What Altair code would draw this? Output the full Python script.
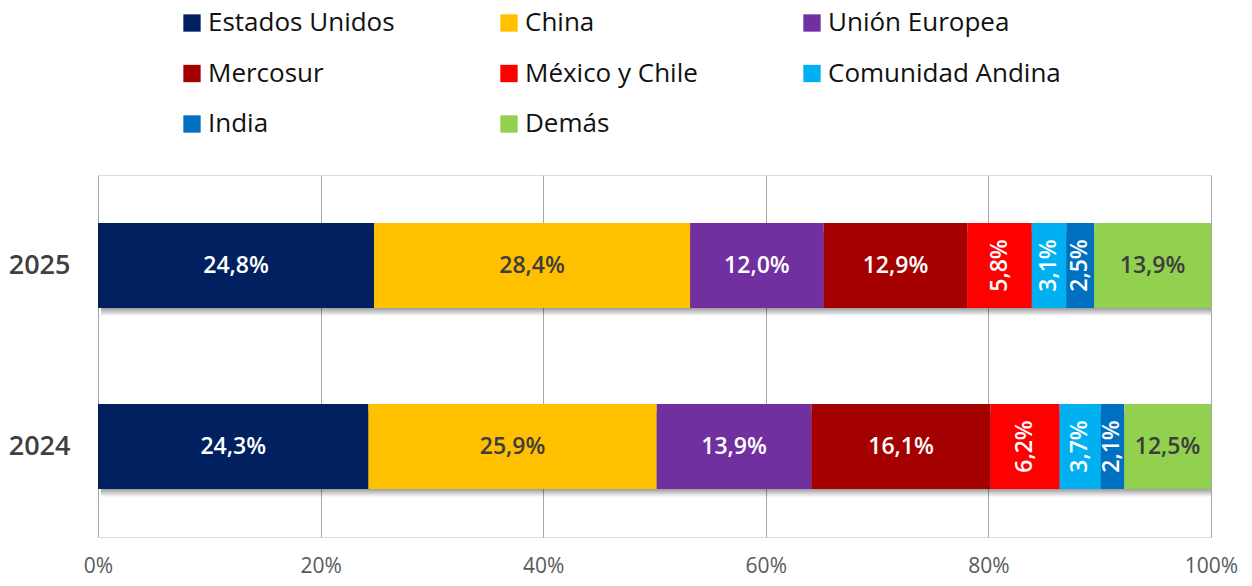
import altair as alt
import pandas as pd

years = ["2025", "2024"]
regions = ["Estados Unidos", "China", "Unión Europea", "Mercosur",
           "México y Chile", "Comunidad Andina", "India", "Demás"]
colors = ["#002060", "#FFC000", "#7030A0", "#A50000",
          "#FF0000", "#00B0F0", "#0070C0", "#92D050"]
v2025 = [24.8, 28.4, 12.0, 12.9, 5.8, 3.1, 2.5, 13.9]
v2024 = [24.3, 25.9, 13.9, 16.1, 6.2, 3.7, 2.1, 12.5]
x_ticks = [0, 20, 40, 60, 80, 100]

rows = []
for year, vals in zip(years, [v2025, v2024]):
    start = 0.0
    for i, (reg, v) in enumerate(zip(regions, vals)):
        end = start + v
        vis_end = min(end, 100.0)
        rows.append({
            "year": year, "region": reg, "order": i, "value": v,
            "start": start, "end": end,
            "mid": (start + vis_end) / 2,
            "label": f"{v:.1f}".replace(".", ",") + "%",
        })
        start = end
df = pd.DataFrame(rows)

FONT = "Open Sans"

x_scale = alt.Scale(domain=[0, 100], nice=False, zero=True)
y_scale = alt.Scale(domain=years, paddingInner=0.53, paddingOuter=0.265)

base = alt.Chart(df)

shadow_fill = alt.Gradient(
    gradient="linear", x1=0, x2=0, y1=0, y2=1,
    stops=[alt.GradientStop(color="rgba(0,0,0,0.45)", offset=0),
           alt.GradientStop(color="rgba(0,0,0,0.45)", offset=0.89),
           alt.GradientStop(color="rgba(0,0,0,0.0)", offset=1)])

shadow = base.transform_aggregate(
    s="min(start)", e="max(end)", groupby=["year"]
).mark_bar(clip=True, yOffset=8, xOffset=3, fill=shadow_fill, stroke=None).encode(
    x=alt.X("s:Q", scale=x_scale,
            axis=alt.Axis(values=x_ticks, labelExpr="datum.value + '%'", title=None,
                          grid=True, gridColor="#a6a6a6", gridWidth=1,
                          domain=False, ticks=False, labelPadding=18, labelFlush=False,
                          labelFontSize=21, labelColor="#595959", labelFont=FONT)),
    x2="e:Q",
    y=alt.Y("year:N", scale=y_scale,
            axis=alt.Axis(title=None, domain=False, ticks=False, grid=False,
                          labelPadding=28, labelFontSize=27, labelFontWeight=600,
                          labelColor="#404040", labelFont=FONT)),
)

bars = base.mark_bar(clip=True, stroke=None).encode(
    x=alt.X("start:Q", scale=x_scale),
    x2="end:Q",
    y=alt.Y("year:N", scale=y_scale),
    color=alt.Color("region:N", scale=alt.Scale(domain=regions, range=colors),
                    legend=alt.Legend(
                        title=None, orient="none", legendX=81, legendY=-165,
                        columns=3, direction="horizontal",
                        symbolType="square", symbolSize=300, symbolStrokeWidth=0,
                        symbolOpacity=1,
                        labelFontSize=26, labelFont=FONT, labelColor="#111111",
                        labelOffset=3, columnPadding=101, rowPadding=24.5,
                        labelLimit=400)),
    order=alt.Order("order:Q"),
)

text_color = alt.condition(
    alt.FieldOneOfPredicate(field="region", oneOf=["China", "Demás"]),
    alt.value("#3d3d3d"), alt.value("white"))

h_text = base.transform_filter("datum.value >= 7").mark_text(
    font=FONT, fontSize=23, fontWeight=600, align="center", baseline="middle"
).encode(
    x=alt.X("mid:Q", scale=x_scale),
    y=alt.Y("year:N", scale=y_scale),
    text="label:N",
    color=text_color,
)

v_text = base.transform_filter("datum.value < 7").mark_text(
    font=FONT, fontSize=23, fontWeight=600, align="center", baseline="middle", angle=270
).encode(
    x=alt.X("mid:Q", scale=x_scale),
    y=alt.Y("year:N", scale=y_scale),
    text="label:N",
    color=text_color,
)

chart = alt.layer(shadow, bars, h_text, v_text).properties(
    width=1113, height=362,
    autosize=alt.AutoSizeParams(type="none"),
    padding={"left": 90, "top": 167, "right": 33, "bottom": 41},
).configure_view(stroke=None).configure(background="white")

chart.save("out.html", embed_options={"renderer": "svg", "actions": False})
